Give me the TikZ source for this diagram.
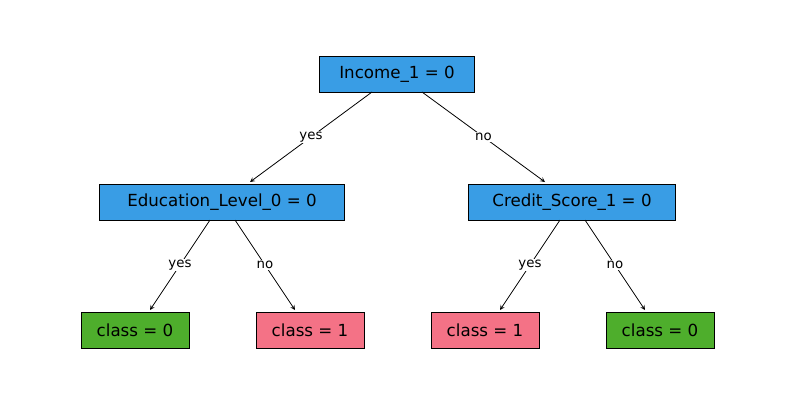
\documentclass[tikz,border=0pt]{standalone}
\usepackage{fontspec}
\setmainfont{DejaVu Sans}
\begin{document}
\begin{tikzpicture}[x=0.75pt,y=-0.75pt,
 box/.style={draw=black,line width=0.6pt,minimum height=36*0.75pt,inner xsep=6pt,font=\fontsize{12.5}{14}\selectfont},
 dec/.style={box,fill={rgb,255:red,57;green,157;blue,229}},
 c0/.style={box,fill={rgb,255:red,78;green,174;blue,44},minimum width=108*0.75pt},
 c1/.style={box,fill={rgb,255:red,244;green,114;blue,134},minimum width=108*0.75pt},
 e/.style={->,>=stealth,line width=0.6pt},
 lab/.style={fill=white,inner sep=1pt,font=\fontsize{10}{12}\selectfont}]
\useasboundingbox (0,0) rectangle (795,405);
\node[dec,minimum width=155*0.75pt] (r) at (397,74) {Income\_1 = 0};
\node[dec,minimum width=245*0.75pt] (a) at (222,202) {Education\_Level\_0 = 0};
\node[dec,minimum width=207*0.75pt] (b) at (572,202) {Credit\_Score\_1 = 0};
\node[c0] (l1) at (135,330) {class = 0};
\node[c1] (l2) at (310,330) {class = 1};
\node[c1] (l3) at (485,330) {class = 1};
\node[c0] (l4) at (660,330) {class = 0};
\coordinate (r1) at (372,92); \coordinate (r2) at (422,92);
\coordinate (a1) at (210,220); \coordinate (a2) at (235,220);
\coordinate (b1) at (560,220); \coordinate (b2) at (585,220);
\draw[e] (r1) -- node[lab]{yes} (250,182);
\draw[e] (r2) -- node[lab]{no} (545,182);
\draw[e] (a1) -- node[lab]{yes} (150,310);
\draw[e] (a2) -- node[lab]{no} (295,310);
\draw[e] (b1) -- node[lab]{yes} (500,310);
\draw[e] (b2) -- node[lab]{no} (645,310);
\end{tikzpicture}
\end{document}
